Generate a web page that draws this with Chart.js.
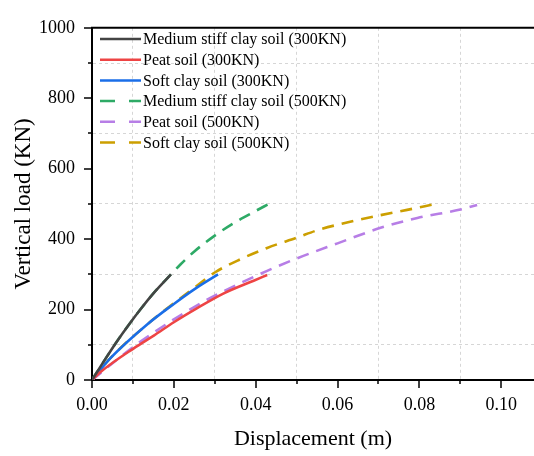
<!DOCTYPE html>
<html>
<head>
<meta charset="utf-8">
<title>Load-displacement</title>
<script src="https://cdn.jsdelivr.net/npm/chart.js@4/dist/chart.umd.min.js"></script>
<style>
  html, body { margin: 0; padding: 0; background: #fff; }
  #wrap { width: 534px; height: 456px; }
</style>
</head>
<body>
<div id="wrap"><canvas id="plot"></canvas></div>
<script>
// displacement (m) / load (KN)
const mediumX300 = [0, 0.003, 0.006, 0.009, 0.012, 0.015, 0.0193]
const mediumY300 = [0, 55, 108, 157, 203, 246, 300]
const peatX300 = [0, 0.002, 0.0102, 0.0151, 0.02, 0.0257, 0.0322, 0.0395, 0.0428]
const peatY300 = [0, 22, 90, 126, 164, 204, 246, 282, 298]
const softX300 = [0, 0.0045, 0.0134, 0.02, 0.0257, 0.0308]
const softY300 = [0, 62, 157, 216, 263, 300]
const mediumX500 = [0, 0.003, 0.006, 0.009, 0.012, 0.015, 0.0193, 0.0216, 0.025, 0.03, 0.035, 0.04, 0.0432]
const mediumY500 = [0, 55, 108, 157, 203, 246, 300, 328, 365, 410, 448, 480, 500]
const peatX500 = [0, 0.0102, 0.02, 0.0257, 0.0301, 0.0428, 0.05, 0.06, 0.0705, 0.0795, 0.09, 0.0941]
const peatY500 = [0, 95, 172, 212, 240, 310, 345, 388, 432, 460, 484, 497]
const softX500 = [0, 0.0045, 0.0134, 0.02, 0.025, 0.0301, 0.0363, 0.0428, 0.05, 0.0558, 0.0623, 0.0705, 0.077, 0.0835]
const softY500 = [0, 62, 157, 218, 262, 306, 343, 375, 404, 428, 447, 468, 483, 499]

const labels = [
  'Medium stiff clay soil (300KN)',
  'Peat soil (300KN)',
  'Soft clay soil (300KN)',
  'Medium stiff clay soil (500KN)',
  'Peat soil (500KN)',
  'Soft clay soil (500KN)',
]
const colors = ['#444444', '#ee4444', '#1a6ee8', '#2eaa66', '#b77ee6', '#cc9f00']

const pts = (xs, ys) => xs.map((x, i) => ({ x, y: ys[i] }))
const series = [
  pts(mediumX300, mediumY300),
  pts(peatX300, peatY300),
  pts(softX300, softY300),
  pts(mediumX500, mediumY500),
  pts(peatX500, peatY500),
  pts(softX500, softY500),
]

const font = 'Liberation Serif'

// tick marks, top frame and legend inside the plot
const decor = {
  id: 'decor',
  afterDraw(chart) {
    const { ctx, chartArea: a, scales } = chart
    ctx.save()
    ctx.strokeStyle = '#000'
    ctx.lineWidth = 2
    ctx.beginPath()
    ctx.moveTo(a.left - 1, a.top)
    ctx.lineTo(a.right, a.top)
    ctx.stroke()

    ctx.lineWidth = 1.5
    for (let i = 0; i <= 10; i++) {
      const len = i % 2 ? 4 : 8
      const px = Math.round(scales.x.getPixelForValue(i * 0.01))
      ctx.beginPath()
      ctx.moveTo(px, a.bottom)
      ctx.lineTo(px, a.bottom + len)
      ctx.stroke()
      const py = Math.round(scales.y.getPixelForValue(i * 100))
      ctx.beginPath()
      ctx.moveTo(a.left, py)
      ctx.lineTo(a.left - len, py)
      ctx.stroke()
    }

    ctx.font = '16px "' + font + '"'
    ctx.textBaseline = 'middle'
    ctx.fillStyle = '#000'
    chart.data.datasets.forEach((d, i) => {
      const y = 39 + i * 20.7
      ctx.strokeStyle = d.borderColor
      ctx.lineWidth = 2.5
      ctx.setLineDash(d.borderDash.length ? [15, 14] : [])
      ctx.beginPath()
      ctx.moveTo(100, y)
      ctx.lineTo(141, y)
      ctx.stroke()
      ctx.setLineDash([])
      ctx.fillText(d.label, 143, y + 1)
    })
    ctx.restore()
  },
}

const oddGrid = c => (c.index % 2 ? '#d6d6d6' : 'rgba(0,0,0,0)')

new Chart(document.getElementById('plot'), {
  type: 'line',
  data: {
    datasets: series.map((s, i) => ({
      label: labels[i],
      data: s,
      borderColor: colors[i],
      backgroundColor: colors[i],
      borderWidth: 2.6,
      borderDash: i < 3 ? [] : [12, 8],
      pointRadius: 0,
      cubicInterpolationMode: 'monotone',
      fill: false,
    })),
  },
  options: {
    responsive: true,
    maintainAspectRatio: false,
    animation: false,
    events: [],
    layout: { padding: { top: 19, right: 0, left: 0, bottom: 0 } },
    plugins: { legend: { display: false }, tooltip: { enabled: false } },
    scales: {
      x: {
        type: 'linear',
        min: 0,
        max: 0.108,
        border: { display: true, color: '#000', width: 2, dash: [3, 3] },
        grid: { color: oddGrid, drawTicks: false, lineWidth: 1 },
        ticks: {
          stepSize: 0.01,
          includeBounds: false,
          padding: 14,
          color: '#000',
          maxRotation: 0,
          autoSkip: false,
          font: { family: font, size: 18 },
          callback: (v, i) => (i % 2 ? '' : v.toFixed(2)),
        },
        title: {
          display: true,
          text: 'Displacement (m)',
          color: '#000',
          font: { family: font, size: 22 },
          padding: { top: 4 },
        },
        afterFit: s => { s.height = 76 },
      },
      y: {
        min: 0,
        max: 1000,
        border: { display: true, color: '#000', width: 2, dash: [3, 3] },
        grid: { color: oddGrid, drawTicks: false, lineWidth: 1 },
        ticks: {
          stepSize: 100,
          padding: 17,
          color: '#000',
          autoSkip: false,
          font: { family: font, size: 18 },
          callback: (v, i) => (i % 2 ? '' : String(v)),
        },
        title: {
          display: true,
          text: 'Vertical load (KN)',
          color: '#000',
          font: { family: font, size: 23 },
          padding: { top: 10, bottom: 0 },
        },
        afterFit: s => { s.width = 92 },
      },
    },
  },
  plugins: [decor],
})
</script>
</body>
</html>
